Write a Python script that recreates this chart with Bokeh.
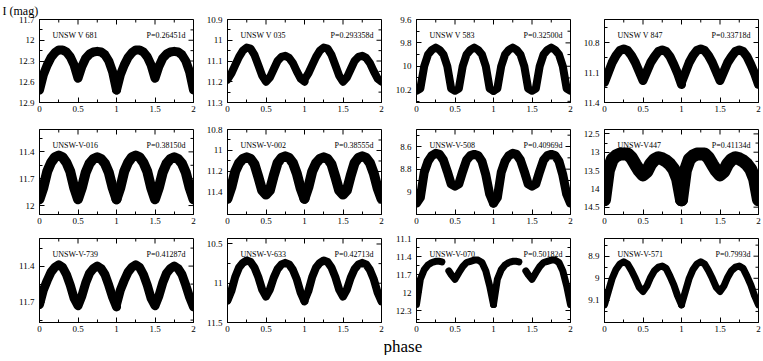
import numpy as np
from bokeh.plotting import figure
from bokeh.models import Range1d, FixedTicker, Label, CustomJSTickFormatter, ColumnDataSource, Title
from bokeh.layouts import row, column
from bokeh.embed import file_html
from bokeh.resources import INLINE

# ---------------- data ----------------
PHASE = [0.00, 0.05, 0.10, 0.15, 0.20, 0.25, 0.30, 0.35, 0.40, 0.45, 0.50,
         0.55, 0.60, 0.65, 0.70, 0.75, 0.80, 0.85, 0.90, 0.95, 1.00]

NAMES = ["UNSW V 681", "UNSW V 035", "UNSW V 583", "UNSW V 847",
         "UNSW-V-016", "UNSW-V-002", "UNSW-V-508", "UNSW-V447",
         "UNSW-V-739", "UNSW-V-633", "UNSW-V-070", "UNSW-V-571"]
PERIODS = ["P=0.26451d", "P=0.293358d", "P=0.32500d", "P=0.33718d",
           "P=0.38150d", "P=0.38555d", "P=0.40969d", "P=0.41134d",
           "P=0.41287d", "P=0.42713d", "P=0.50182d", "P=0.7993d"]

MAG_681 = [12.72, 12.50, 12.36, 12.25, 12.18, 12.14, 12.14, 12.17, 12.24, 12.36, 12.55,
           12.38, 12.26, 12.20, 12.17, 12.16, 12.17, 12.21, 12.30, 12.46, 12.72]
MAG_035 = [11.19, 11.16, 11.12, 11.08, 11.05, 11.035, 11.04, 11.07, 11.12, 11.17, 11.20,
           11.18, 11.14, 11.10, 11.08, 11.075, 11.085, 11.11, 11.15, 11.185, 11.20]
MAG_583 = [10.21, 10.19, 10.00, 9.90, 9.86, 9.84, 9.86, 9.90, 10.00, 10.19, 10.21,
           10.19, 10.00, 9.90, 9.86, 9.84, 9.86, 9.90, 10.00, 10.19, 10.21]
MAG_847 = [11.20, 11.10, 11.00, 10.93, 10.88, 10.865, 10.88, 10.93, 11.00, 11.09, 11.18,
           11.09, 11.00, 10.94, 10.89, 10.875, 10.89, 10.94, 11.02, 11.11, 11.22]
MAG_016 = [11.93, 11.80, 11.62, 11.52, 11.46, 11.44, 11.46, 11.52, 11.62, 11.80, 11.93,
           11.80, 11.63, 11.53, 11.48, 11.46, 11.48, 11.53, 11.63, 11.80, 11.93]
MAG_002 = [11.46, 11.35, 11.20, 11.12, 11.08, 11.065, 11.08, 11.13, 11.25, 11.38, 11.42,
           11.38, 11.24, 11.12, 11.07, 11.055, 11.07, 11.12, 11.22, 11.36, 11.46]
MAG_508 = [9.10, 9.05, 8.83, 8.73, 8.68, 8.66, 8.67, 8.72, 8.82, 8.93, 8.95,
           8.93, 8.82, 8.72, 8.68, 8.67, 8.68, 8.73, 8.85, 9.02, 9.10]
MAG_447 = [14.30, 13.50, 13.20, 13.10, 13.05, 13.05, 13.05, 13.15, 13.33, 13.50, 13.62,
           13.53, 13.32, 13.20, 13.15, 13.18, 13.24, 13.33, 13.47, 13.73, 14.30]
MAG_739 = [11.72, 11.60, 11.52, 11.45, 11.41, 11.39, 11.41, 11.47, 11.56, 11.67, 11.73,
           11.65, 11.54, 11.46, 11.42, 11.40, 11.42, 11.47, 11.56, 11.66, 11.74]
MAG_633 = [11.22, 11.10, 10.92, 10.80, 10.74, 10.71, 10.73, 10.80, 10.92, 11.08, 11.17,
           11.08, 10.93, 10.82, 10.76, 10.74, 10.76, 10.83, 10.95, 11.12, 11.23]
# UNSW-V-070 has a gap in phase coverage
PHASE_070 = [0.00, 0.05, 0.10, 0.15, 0.20, 0.25, 0.30, 0.33, np.nan, 0.42, 0.45, 0.50,
             0.55, 0.60, 0.65, 0.70, 0.75, 0.80, 0.85, 0.90, 0.95, 1.00]
MAG_070 = [12.20, 11.78, 11.62, 11.54, 11.50, 11.48, 11.48, 11.49, np.nan, 11.64, 11.70, 11.78,
           11.67, 11.57, 11.50, 11.48, 11.46, 11.46, 11.50, 11.64, 11.89, 12.20]
MAG_571 = [9.12, 9.06, 9.00, 8.96, 8.935, 8.925, 8.935, 8.965, 9.00, 9.04, 9.06,
           9.035, 8.995, 8.965, 8.95, 8.945, 8.955, 8.99, 9.03, 9.08, 9.12]

CURVES = [(PHASE, MAG_681), (PHASE, MAG_035), (PHASE, MAG_583), (PHASE, MAG_847),
          (PHASE, MAG_016), (PHASE, MAG_002), (PHASE, MAG_508), (PHASE, MAG_447),
          (PHASE, MAG_739), (PHASE, MAG_633), (PHASE_070, MAG_070), (PHASE, MAG_571)]

# y limits (faint, bright) -> magnitude axis reversed
YLIM = [(12.9, 11.7), (11.3, 10.9), (10.31, 9.6), (11.4, 10.57),
        (12.1, 11.15), (11.61, 10.8), (9.2, 8.45), (14.7, 12.38),
        (11.87, 11.17), (11.5, 10.43), (12.5, 11.1), (9.2, 8.82)]
YTICKS = [[11.7, 12, 12.3, 12.6, 12.9], [10.9, 11, 11.1, 11.2, 11.3], [9.6, 9.8, 10, 10.2], [10.8, 11.1, 11.4],
          [11.4, 11.7, 12], [10.8, 11, 11.2, 11.4], [8.6, 8.8, 9], [12.5, 13, 13.5, 14, 14.5],
          [11.4, 11.7], [10.5, 11, 11.5], [11.1, 11.4, 11.7, 12, 12.3], [8.9, 9, 9.1]]
YMINOR = [[11.85, 12.15, 12.45, 12.75], [10.95, 11.05, 11.15, 11.25], [9.7, 9.9, 10.1, 10.3], [10.65, 10.95, 11.25],
          [11.25, 11.55, 11.85], [10.9, 11.1, 11.3, 11.5], [8.5, 8.7, 8.9, 9.1], [12.75, 13.25, 13.75, 14.25],
          [11.25, 11.55, 11.85], [10.75, 11.25], [11.25, 11.55, 11.85, 12.15, 12.45], [8.85, 8.95, 9.05, 9.15]]
XTICKS = [0, 0.5, 1, 1.5, 2]
XMINOR = [0.25, 0.75, 1.25, 1.75]

# ---------------- style ----------------
LINE_W = [9, 8, 8, 9, 10, 10, 9, 13, 9, 8, 7, 7]
FONT = "Liberation Serif"
FW = 154
COL_LEFT = [39, 31, 32, 31]
COL_RIGHT = [3, 3, 3, 3]
ROW_TOP = [17, 12, 9]
ROW_FH = [83, 85, 84]
ROW_BOTTOM = [15, 15, 15]
PX_PER_X = FW / 2.0

fmt_code = "return String(Math.round(tick*1000)/1000);"


def style_axis(ax, ticks, minor, standoff):
    ax.ticker = FixedTicker(ticks=ticks, minor_ticks=minor)
    ax.formatter = CustomJSTickFormatter(code=fmt_code)
    ax.axis_line_color = "black"
    ax.major_tick_line_color = "black"
    ax.minor_tick_line_color = "black"
    ax.major_tick_in = 5
    ax.major_tick_out = 0
    ax.minor_tick_in = 3
    ax.minor_tick_out = 0
    ax.major_label_text_font = FONT
    ax.major_label_text_color = "black"
    ax.major_label_text_font_size = "9px"
    ax.major_label_standoff = standoff


rows = []
for r in range(3):
    figs = []
    for c in range(4):
        i = r * 4 + c
        faint, bright = YLIM[i]
        fh = ROW_FH[r]
        mpp = (faint - bright) / fh
        p = figure(frame_width=FW, frame_height=fh,
                   min_border_left=COL_LEFT[c], min_border_right=COL_RIGHT[c],
                   min_border_top=ROW_TOP[r], min_border_bottom=ROW_BOTTOM[r],
                   x_range=Range1d(0, 2), y_range=Range1d(faint, bright),
                   output_backend="svg", toolbar_location=None, tools="")
        p.xgrid.visible = False
        p.ygrid.visible = False
        p.outline_line_color = "black"
        p.outline_line_width = 1

        style_axis(p.xaxis[0], XTICKS, XMINOR, 3)
        style_axis(p.yaxis[0], YTICKS[i], YMINOR[i], 5)

        # mirrored ticks on the top and right edges
        p.segment(x0=XTICKS, y0=[bright] * len(XTICKS), x1=XTICKS,
                  y1=[bright + 5 * mpp] * len(XTICKS), line_color="black", line_width=1)
        p.segment(x0=XMINOR, y0=[bright] * len(XMINOR), x1=XMINOR,
                  y1=[bright + 3 * mpp] * len(XMINOR), line_color="black", line_width=1)
        p.segment(x0=[2] * len(YTICKS[i]), y0=YTICKS[i], x1=[2 - 5 / PX_PER_X] * len(YTICKS[i]),
                  y1=YTICKS[i], line_color="black", line_width=1)
        p.segment(x0=[2] * len(YMINOR[i]), y0=YMINOR[i], x1=[2 - 3 / PX_PER_X] * len(YMINOR[i]),
                  y1=YMINOR[i], line_color="black", line_width=1)

        ph, mg = CURVES[i]
        ph = np.array(ph, dtype=float)
        mg = np.array(mg, dtype=float)
        for k in (0, 1):
            src = ColumnDataSource(dict(x=ph + k, y=mg))
            p.line("x", "y", source=src, line_width=LINE_W[i], line_color="black",
                   line_join="round", line_cap="round")

        ylab = bright + 16 * mpp
        p.add_layout(Label(x=13 / PX_PER_X, y=ylab, text=NAMES[i], text_font=FONT,
                           text_font_size="8px", text_baseline="middle", text_align="left",
                           text_color="black"))
        p.add_layout(Label(x=2 - 8 / PX_PER_X, y=ylab, text=PERIODS[i], text_font=FONT,
                           text_font_size="8px", text_baseline="middle", text_align="right",
                           text_color="black"))

        if i == 0:
            p.add_layout(Title(text="I (mag)", align="left", offset=-37, standoff=3,
                               text_font=FONT, text_font_size="12px", text_font_style="normal",
                               text_color="black"), "above")
        if i == 10:
            p.add_layout(Title(text="phase", align="left", offset=-33, standoff=0,
                               text_font=FONT, text_font_size="17px", text_font_style="normal",
                               text_color="black"), "below")
        figs.append(p)
    rows.append(row(*figs))

layout = column(*rows)

with open("out.html", "w") as f:
    f.write(file_html(layout, INLINE))
